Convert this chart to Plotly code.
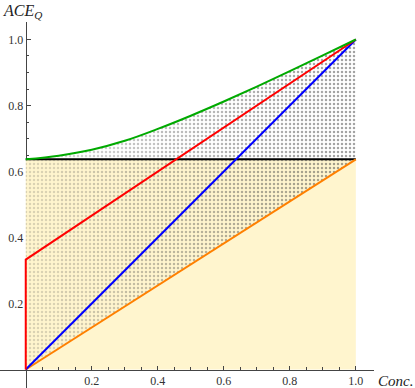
import plotly.graph_objects as go

# ---- data ----
conc_grid = [0.0, 0.1, 0.2, 0.3, 0.4, 0.5, 0.6, 0.7, 0.8, 0.9, 1.0]
green_upper = [0.637, 0.648, 0.666, 0.693, 0.729, 0.769, 0.812, 0.857, 0.904, 0.952, 1.0]
orange_lower = [0.0, 0.064, 0.127, 0.191, 0.255, 0.318, 0.382, 0.446, 0.509, 0.573, 0.637]
cloud_alpha = [0.40, 0.48, 0.56, 0.64, 0.72, 0.78, 0.84, 0.90, 0.95, 1.0]

black_x = [0.0, 1.0]
black_y = [0.637, 0.637]
red_x = [0.0, 0.0, 1.0]
red_y = [0.0, 0.333, 1.0]
blue_x = [0.0, 1.0]
blue_y = [0.0, 1.0]
orange_x = [0.0, 1.0]
orange_y = [0.0, 0.637]

x_ticks = [0.2, 0.4, 0.6, 0.8, 1.0]
x_ticktext = ["0.2", "0.4", "0.6", "0.8", "1.0"]
y_ticks = [0.2, 0.4, 0.6, 0.8, 1.0]
y_ticktext = ["0.2", "0.4", "0.6", "0.8", "1.0"]
minor_ticks = [0.05, 0.1, 0.15, 0.25, 0.3, 0.35, 0.45, 0.5, 0.55, 0.65, 0.7, 0.75,
               0.85, 0.9, 0.95]

XR = [-0.078, 1.055]
YR = [-0.056, 1.053]
PLOT_W = 374
PLOT_H = 366

fig = go.Figure()

# cream region under the black line
fig.add_trace(go.Scatter(x=black_x, y=black_y, fill="tozeroy", mode="lines",
                         line=dict(width=0), fillcolor="rgb(255,245,206)",
                         hoverinfo="skip", showlegend=False))

# dotted cloud between orange line and green curve
for i in range(len(conc_grid) - 1):
    xs = [conc_grid[i], conc_grid[i + 1], conc_grid[i + 1], conc_grid[i], conc_grid[i]]
    ys = [orange_lower[i], orange_lower[i + 1], green_upper[i + 1], green_upper[i], orange_lower[i]]
    fig.add_trace(go.Scatter(
        x=xs, y=ys, mode="lines", fill="toself", line=dict(width=0),
        fillcolor="rgba(0,0,0,0)",
        fillpattern=dict(shape=".", size=4, solidity=0.3,
                         fgcolor=f"rgba(70,70,70,{cloud_alpha[i]})",
                         bgcolor="rgba(0,0,0,0)"),
        hoverinfo="skip", showlegend=False))

line_w = 2
fig.add_trace(go.Scatter(x=black_x, y=black_y, mode="lines",
                         line=dict(color="black", width=line_w), showlegend=False))
fig.add_trace(go.Scatter(x=orange_x, y=orange_y, mode="lines",
                         line=dict(color="rgb(255,128,0)", width=line_w), showlegend=False))
fig.add_trace(go.Scatter(x=blue_x, y=blue_y, mode="lines",
                         line=dict(color="rgb(0,0,255)", width=line_w), showlegend=False))
fig.add_trace(go.Scatter(x=red_x, y=red_y, mode="lines",
                         line=dict(color="rgb(255,0,0)", width=line_w), showlegend=False))
fig.add_trace(go.Scatter(x=conc_grid, y=green_upper, mode="lines", line_shape="spline",
                         line=dict(color="rgb(0,170,0)", width=line_w), showlegend=False))

font = dict(family="Liberation Serif, serif", size=12, color="#333")
axis_common = dict(showgrid=False, zeroline=False, showline=True, linecolor="#444",
                   linewidth=1, ticks="inside", ticklen=4, tickwidth=1, tickcolor="#444",
                   tickfont=font, anchor="free", automargin=False, fixedrange=True)

fig.update_layout(
    width=415, height=388,
    margin=dict(l=0, r=41, t=22, b=0, pad=0, autoexpand=False),
    paper_bgcolor="white", plot_bgcolor="white",
    xaxis=dict(range=XR, tickvals=x_ticks, ticktext=x_ticktext,
               position=(0 - YR[0]) / (YR[1] - YR[0]),
               minor=dict(tickvals=minor_ticks, ticks="inside", ticklen=2.5,
                          tickcolor="#444", tickwidth=1),
               **axis_common),
    yaxis=dict(range=YR, tickvals=y_ticks, ticktext=y_ticktext,
               position=(0 - XR[0]) / (XR[1] - XR[0]), layer="below traces",
               minor=dict(tickvals=minor_ticks, ticks="inside", ticklen=2.5,
                          tickcolor="#444", tickwidth=1),
               **axis_common),
    annotations=[
        dict(text="<i>ACE<sub>Q</sub></i>", xref="paper", yref="paper",
             x=1 / PLOT_W, y=(388 - 12) / PLOT_H, xanchor="left", yanchor="middle",
             showarrow=False,
             font=dict(family="Liberation Serif, serif", size=16, color="#222")),
        dict(text="<i>Conc.</i>", xref="paper", yref="paper",
             x=376 / PLOT_W, y=(388 - 381) / PLOT_H, xanchor="left", yanchor="middle",
             showarrow=False,
             font=dict(family="Liberation Serif, serif", size=15, color="#222")),
    ],
)

fig.write_html("out.html", config={"displayModeBar": False},
               post_script="document.body.style.margin='0px';document.body.style.padding='0px';")
